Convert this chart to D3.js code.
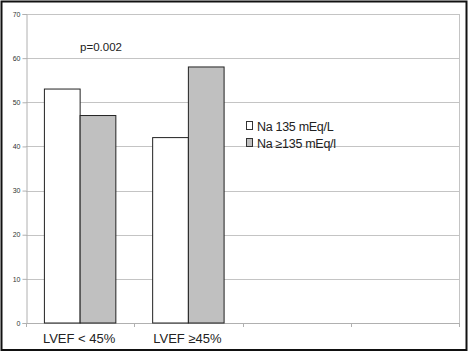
<!DOCTYPE html>
<html>
<head>
<meta charset="utf-8">
<script src="https://cdn.jsdelivr.net/npm/d3@7"></script>
<style>
  body { margin: 0; background: #fff; }
  svg { display: block; font-family: "Liberation Sans", Arial, sans-serif; }
</style>
</head>
<body>
<svg id="chart"></svg>
<script>
// data
const categories = ["LVEF < 45%", "LVEF \u226545%", "", ""];
const seriesNames = ["Na 135 mEq/L", "Na  \u2265135 mEq/l"];
const seriesA = [53, 42];   // white bars
const seriesB = [47, 58];   // grey bars
const yTicks = [0, 10, 20, 30, 40, 50, 60, 70];
const annotation = "p=0.002";

const W = 470, H = 353;
const margin = {top: 14, right: 11, bottom: 30, left: 26};
const width = 459 - margin.left;
const height = 323 - margin.top;

const svg = d3.select("#chart").attr("width", W).attr("height", H);

// outer frame
svg.append("rect")
    .attr("x", 1.5).attr("y", 1.5)
    .attr("width", 465).attr("height", 348.5)
    .attr("fill", "#fff")
    .attr("stroke", "#111")
    .attr("stroke-width", 2);

const chart = svg.append("g")
    .attr("transform", `translate(${margin.left},${margin.top})`);

const x0 = d3.scaleBand()
    .domain(d3.range(categories.length))
    .range([0, width]);

const gap = x0.step() * 0.17;
const x1 = d3.scaleBand()
    .domain([0, 1])
    .range([gap, x0.step() - gap]);

const y = d3.scaleLinear().domain([0, 70]).range([height, 0]);

// gridlines
chart.selectAll(".grid")
    .data(yTicks.filter(d => d > 0))
    .join("line")
    .attr("x1", 0).attr("x2", width)
    .attr("y1", d => Math.round(y(d)) + 0.5).attr("y2", d => Math.round(y(d)) + 0.5)
    .attr("stroke", "#c4c4c4");

// right edge of plot
chart.append("line")
    .attr("x1", width + 0.5).attr("x2", width + 0.5)
    .attr("y1", 0).attr("y2", height)
    .attr("stroke", "#c4c4c4");

// y axis
const yAxis = d3.axisLeft(y).tickValues(yTicks).tickSize(4).tickPadding(2);
chart.append("g")
    .attr("transform", "translate(0.5,0)")
    .call(yAxis)
    .call(g => g.select(".domain").attr("stroke", "#b0b0b0"))
    .call(g => g.selectAll(".tick line").attr("stroke", "#b0b0b0"))
    .call(g => g.selectAll("text").attr("fill", "#333").style("font-size", "7px")
        .style("font-family", "Liberation Sans, Arial, sans-serif"));

// x axis line and boundary ticks
chart.append("line")
    .attr("x1", 0).attr("x2", width)
    .attr("y1", height + 0.5).attr("y2", height + 0.5)
    .attr("stroke", "#b0b0b0");

chart.selectAll(".xtick")
    .data(d3.range(categories.length + 1))
    .join("line")
    .attr("x1", i => Math.round(i * x0.step()) + 0.5)
    .attr("x2", i => Math.round(i * x0.step()) + 0.5)
    .attr("y1", height).attr("y2", height + 4)
    .attr("stroke", "#b0b0b0");

// category labels centred under the bar groups
chart.selectAll(".xlabel")
    .data(categories)
    .join("text")
    .attr("x", (d, i) => x0(i) + x0.step() / 2 - 1)
    .attr("y", height + 20)
    .attr("text-anchor", "middle")
    .attr("fill", "#222")
    .style("font-size", "13px")
    .text(d => d);

// bars
const rows = [seriesA, seriesB];
const colors = ["#ffffff", "#c0c0c0"];
rows.forEach((vals, s) => {
    chart.selectAll(".bar" + s)
        .data(vals)
        .join("rect")
        .attr("x", (d, i) => x0(i) + x1(s))
        .attr("y", d => y(d))
        .attr("width", x1.bandwidth())
        .attr("height", d => height - y(d))
        .attr("fill", colors[s])
        .attr("stroke", "#222")
        .attr("stroke-width", 1);
});

// p value
chart.append("text")
    .attr("x", 75)
    .attr("y", 37)
    .attr("text-anchor", "middle")
    .attr("fill", "#222")
    .style("font-size", "11.5px")
    .text(annotation);

// legend
const legend = chart.append("g").attr("transform", "translate(220,107)");
seriesNames.forEach((name, i) => {
    const g = legend.append("g").attr("transform", `translate(0,${i * 17})`);
    g.append("rect")
        .attr("x", 0.5).attr("y", 0.5)
        .attr("width", 6).attr("height", 8)
        .attr("fill", colors[i])
        .attr("stroke", "#333");
    g.append("text")
        .attr("x", 11).attr("y", 9.5)
        .attr("fill", "#222")
        .style("font-size", "12.5px")
        .style("letter-spacing", "-0.3px")
        .text(name);
});
</script>
</body>
</html>
